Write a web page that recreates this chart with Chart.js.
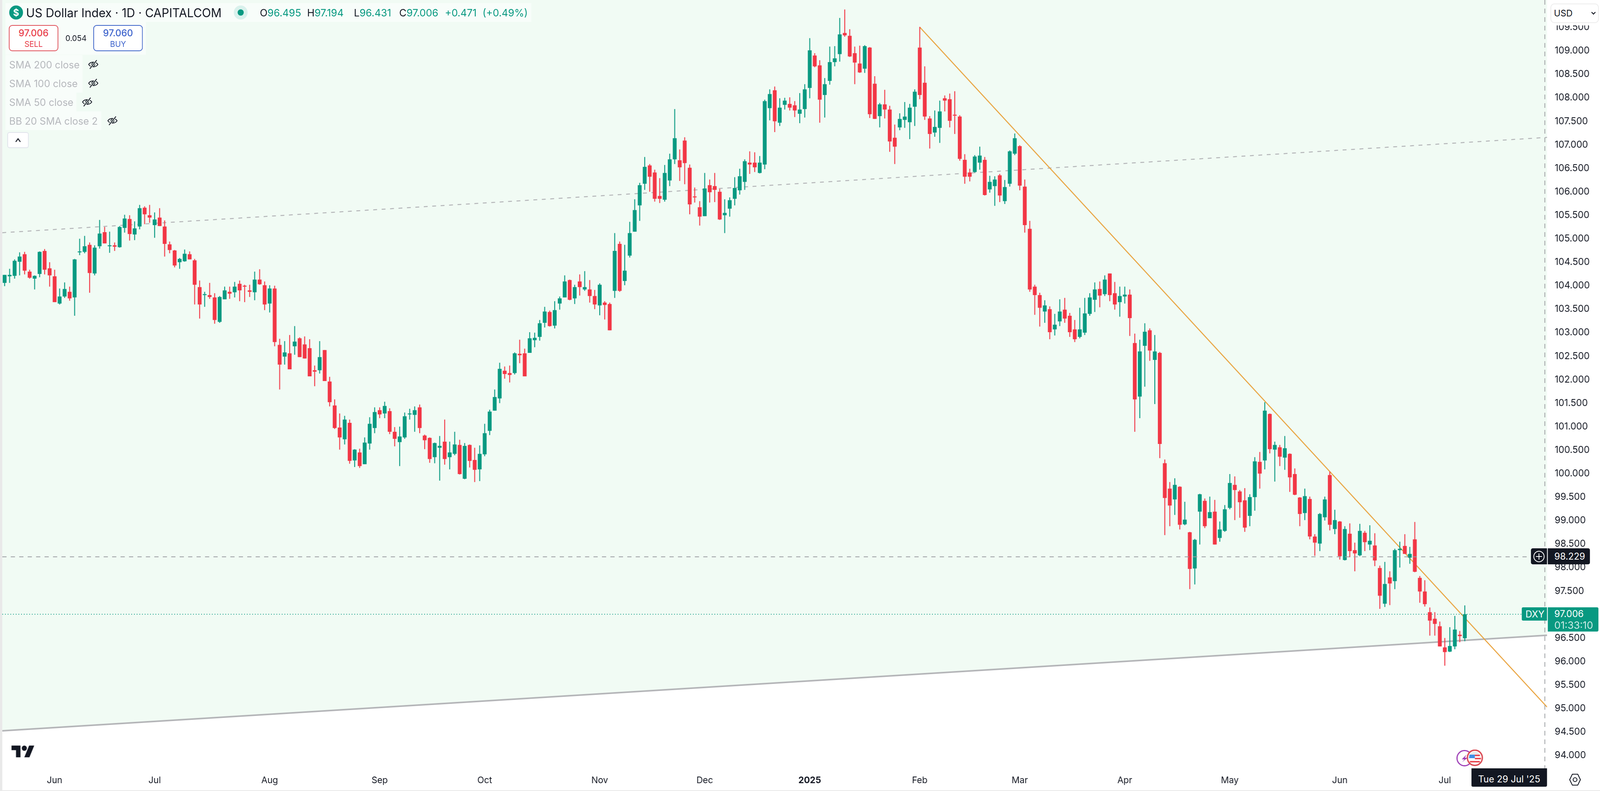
<!DOCTYPE html>
<html>
<head>
<meta charset="utf-8">
<title>US Dollar Index</title>
<script src="https://cdn.jsdelivr.net/npm/chart.js@4/dist/chart.umd.js"></script>
<style>
  html, body { margin: 0; padding: 0; height: 2024px; overflow: hidden; background: #e9e9e9; }
  #page { position: absolute; left: 0; top: 0; width: 4168px; height: 2024px; transform-origin: 0 0; font-family: Inter, Roboto, sans-serif; color: #131722; }
  #panel { position: absolute; left: 6px; top: 0; width: 4162px; height: 2022px; background: #fff; }
  canvas { position: absolute; left: 0; top: 0; }
  .a { position: absolute; white-space: nowrap; display: flex; align-items: center; box-sizing: border-box; }
  .pill { background: rgba(255,255,255,.5); }
  .num { color: #089981; }
  .sma { color: #b6b8bd; font-size: 25.5px; height: 48px; left: 24px; }
  .dark { background: #131722; color: #fff; font-size: 24px; }
  .green { background: #089981; color: #fff; font-size: 24px; }
  .ohlc { font-size: 26px; top: 32px; height: 0; }
  .box { background: #fff; border-radius: 9px; border: 2.5px solid; flex-direction: column; justify-content: center; top: 64px; height: 67px; width: 129px; line-height: 1; }
</style>
</head>
<body>
<div id="page">
<div id="panel"></div>
<canvas id="chart" width="4168" height="2024"></canvas>

<svg width="0" height="0" style="position:absolute">
  <symbol id="eyeoff" viewBox="0 0 30 30">
    <path d="M3 15 C8 7 22 7 27 15 C22 23 8 23 3 15Z" fill="none" stroke="#131722" stroke-width="2"/>
    <circle cx="15" cy="15" r="4" fill="none" stroke="#131722" stroke-width="2"/>
    <path d="M24 4 L6 26" stroke="#f1fbf4" stroke-width="5"/>
    <path d="M24 4 L6 26" stroke="#131722" stroke-width="2"/>
  </symbol>
</svg>

<!-- header -->
<div class="a pill" style="left:14px;top:8px;width:1370px;height:48px"></div>
<div class="a pill" style="left:14px;top:56px;width:366px;height:84px"></div>
<div class="a" style="left:24px;top:14px;width:36px;height:36px;border-radius:50%;background:#089981;color:#fff;font-weight:700;font-size:24px;justify-content:center">$</div>
<div class="a" style="left:68px;top:8px;height:48px;font-size:30.7px">US Dollar Index · 1D · CAPITALCOM</div>
<div class="a" style="left:609px;top:14px;width:36px;height:36px;border-radius:50%;background:#d9f1ec"></div>
<div class="a" style="left:619px;top:24px;width:16px;height:16px;border-radius:50%;background:#089981"></div>
<div class="a ohlc" style="left:677px">O<span class="num">96.495</span></div>
<div class="a ohlc" style="left:800px">H<span class="num">97.194</span></div>
<div class="a ohlc" style="left:922px">L<span class="num">96.431</span></div>
<div class="a ohlc" style="left:1040px">C<span class="num">97.006</span></div>
<div class="a ohlc num" style="left:1159px">+0.471</div>
<div class="a ohlc num" style="left:1257px">(+0.49%)</div>

<div class="a box" style="left:23px;border-color:#e0525c;color:#e8404c"><div style="font-size:24px;font-weight:500;margin-bottom:6px">97.006</div><div style="font-size:20px">SELL</div></div>
<div class="a" style="left:170px;top:84px;height:28px;font-size:20px;width:56px;justify-content:center">0.054</div>
<div class="a box" style="left:243px;border-color:#3f66c9;color:#3d63cc"><div style="font-size:24px;font-weight:500;margin-bottom:6px">97.060</div><div style="font-size:20px">BUY</div></div>

<div class="a pill" style="left:14px;top:141px;width:201px;height:48px"></div>
<div class="a pill" style="left:14px;top:189px;width:201px;height:48px"></div>
<div class="a pill" style="left:14px;top:237px;width:185px;height:48px"></div>
<div class="a pill" style="left:14px;top:285px;width:250px;height:48px"></div>
<div class="a sma" style="top:141px">SMA 200 close</div>
<div class="a sma" style="top:189px">SMA 100 close</div>
<div class="a sma" style="top:237px">SMA 50 close</div>
<div class="a sma" style="top:285px">BB 20 SMA close 2</div>
<svg class="a" style="left:228px;top:150px" width="30" height="30"><use href="#eyeoff"/></svg>
<svg class="a" style="left:228px;top:198px" width="30" height="30"><use href="#eyeoff"/></svg>
<svg class="a" style="left:212px;top:246px" width="30" height="30"><use href="#eyeoff"/></svg>
<svg class="a" style="left:278px;top:294px" width="30" height="30"><use href="#eyeoff"/></svg>
<div class="a" style="left:19px;top:338px;width:56px;height:41px;background:#fff;border:2px solid #e0e3eb;border-radius:6px;justify-content:center">
  <svg width="16" height="12" viewBox="0 0 16 12"><path d="M2 10 L8 2 L14 10" fill="none" stroke="#131722" stroke-width="2.4"/></svg>
</div>

<!-- right side widgets -->
<div class="a" style="left:4032px;top:0;width:136px;height:65px;background:#fff"></div>
<div class="a" style="left:4039px;top:9px;width:126px;height:50px;border:2px solid #ececec;border-radius:10px;font-size:23px;padding-left:7px">USD</div>
<svg class="a" style="left:4144px;top:29px" width="14" height="10" viewBox="0 0 14 10"><path d="M2 2 L7 7 L12 2" fill="none" stroke="#131722" stroke-width="2.4"/></svg>

<div class="a dark" style="left:3988px;top:1403px;width:42px;height:41px;border-radius:5px 0 0 5px;justify-content:center">
  <svg width="30" height="30" viewBox="0 0 30 30"><circle cx="15" cy="15" r="13.5" fill="none" stroke="#fff" stroke-width="2"/><path d="M15 7V23M7 15H23" stroke="#fff" stroke-width="2"/></svg>
</div>
<div class="a dark" style="left:4032px;top:1403px;width:110px;height:41px;border-radius:0 5px 5px 0;padding-left:17px">98.229</div>

<div class="a green" style="left:3964px;top:1554px;width:66px;height:34px;border-radius:4px 0 0 4px;padding-left:10px">DXY</div>
<div class="a green" style="left:4032px;top:1554px;width:132px;height:62px;border-radius:0 4px 4px 0;padding-left:17px;flex-direction:column;align-items:flex-start;justify-content:center;line-height:29px">
  <div>97.006</div><div style="opacity:.8;font-size:26px">01:33:10</div>
</div>

<div class="a dark" style="left:3833px;top:1966px;width:197px;height:47px;border-radius:0 0 4px 4px;justify-content:center;padding-top:8px">Tue 29 Jul '25</div>
<svg class="a" style="left:4087px;top:1978px" width="32" height="34" viewBox="0 0 32 34"><path d="M9 3H23L30 17L23 31H9L2 17Z" fill="none" stroke="#131722" stroke-width="2.2"/><circle cx="16" cy="17" r="5" fill="none" stroke="#131722" stroke-width="2.2"/></svg>

<!-- logo and event badges -->
<svg class="a" style="left:30px;top:1901px" width="60" height="47" viewBox="0 0 36 28"><path d="M14 22H7V11H0V4h14v18z" fill="#131722"/><path d="M28 22h-8l7.5-18h8L28 22z" fill="#131722"/><circle cx="20" cy="8" r="4" fill="#131722"/></svg>
<svg class="a" style="left:3793px;top:1918px" width="72" height="44" viewBox="0 0 72 44">
  <circle cx="22" cy="22" r="19.5" fill="#fff" stroke="#9c3bb5" stroke-width="3"/>
  <path d="M27 13 L15 25 H22 L16 32 L30 21 H23 Z" fill="#9c3bb5"/>
  <circle cx="49" cy="21" r="19.5" fill="#fff" stroke="#d9464f" stroke-width="3.5"/>
  <path d="M34 16 a16 16 0 0 1 30 0 Z" fill="#e9e9e9"/>
  <path d="M35 13H49V22H33.5Z" fill="#3f8fe6"/>
  <path d="M49 13H62V17H49ZM49 21H65V25H49ZM36 29H62V33H36Z" fill="#ea5058"/>
</svg>
</div>

<script>
// the window can be narrower than the 4168 px layout, squeeze to fit
document.getElementById('page').style.transform = 'scaleX(' + Math.min(1, window.innerWidth / 4168) + ')';

// daily candles, oldest first
const opens = [
  104.06,104.20,104.21,104.51,104.67,104.30,104.15,104.25,104.74,104.37,
  104.20,103.62,103.77,103.87,103.75,104.71,104.72,104.87,104.26,104.84,
  105.14,104.84,104.86,104.82,105.23,105.42,105.09,105.26,105.66,105.50,
  105.29,105.45,105.26,104.88,104.75,104.50,104.52,104.67,104.54,103.97,
  103.80,103.80,103.75,103.23,103.71,103.87,103.86,104.04,104.00,103.90,
  103.86,104.13,104.01,103.62,103.94,102.74,102.49,102.56,102.71,102.88,
  102.75,102.67,102.20,102.20,102.63,101.96,101.45,100.98,100.73,101.08,
  100.28,100.45,100.20,100.64,100.97,101.35,101.28,101.33,100.89,100.67,
  100.77,101.26,101.25,101.41,100.81,100.76,100.35,100.55,100.68,100.35,
  100.42,100.61,99.89,100.61,100.29,100.09,100.41,100.91,101.34,101.60,
  102.19,102.14,102.14,102.55,102.56,102.57,102.84,102.91,103.21,103.44,
  103.15,103.62,103.75,104.12,103.73,104.09,103.92,103.92,103.78,103.58,
  103.64,103.61,103.89,104.89,104.10,104.64,105.15,105.71,106.17,106.56,
  106.41,105.91,105.83,106.24,106.69,106.67,107.09,106.51,105.90,105.67,
  105.48,106.14,106.12,106.00,105.50,105.64,105.85,106.03,106.21,106.62,
  106.62,106.40,106.58,107.78,108.16,107.47,107.85,107.87,107.84,107.66,
  107.76,108.21,108.90,108.69,108.06,108.36,108.76,108.93,109.38,109.32,
  108.95,108.73,108.62,109.07,108.30,107.61,107.86,107.75,107.15,107.37,
  107.53,107.48,107.81,109.07,108.32,107.56,107.26,107.36,107.99,107.97,
  107.64,107.60,106.68,106.41,106.42,106.62,106.68,106.05,106.12,106.35,
  105.80,106.17,106.81,106.97,106.11,105.21,103.98,103.80,103.45,103.50,
  103.07,103.24,103.49,103.36,103.07,102.91,103.00,103.40,103.70,103.93,
  103.82,104.26,103.84,103.65,103.77,103.81,102.78,101.64,102.72,103.05,
  102.42,102.57,100.22,99.68,99.45,99.72,98.92,98.75,97.98,99.19,
  99.42,99.05,99.19,98.63,98.78,99.27,99.76,99.62,99.43,99.10,
  99.50,100.25,100.28,101.27,100.51,100.56,100.34,100.42,99.99,99.49,
  99.16,99.46,98.66,98.51,99.07,99.97,98.82,98.98,98.16,98.72,
  98.37,98.26,98.74,98.49,98.47,97.99,97.23,97.79,97.71,98.37,
  98.46,98.21,98.60,97.78,97.49,97.05,96.91,96.75,96.30,96.21,96.32,96.57,96.495
];
const closes = [
  104.23,104.23,104.53,104.62,104.32,104.17,104.21,104.72,104.34,104.22,
  103.65,103.77,103.93,103.73,104.56,104.73,104.84,104.27,104.81,105.11,
  104.90,104.86,104.83,105.25,105.43,105.10,105.22,105.65,105.52,105.45,
  105.41,105.27,104.89,104.76,104.43,104.57,104.68,104.56,104.02,103.60,
  103.82,103.76,103.27,103.76,103.90,103.83,103.98,103.90,103.98,103.87,
  104.13,104.03,103.60,103.94,102.80,102.32,102.58,102.22,102.81,102.48,
  102.45,102.07,102.17,102.48,101.97,101.52,100.97,100.77,101.15,100.27,
  100.51,100.16,100.66,101.06,101.31,101.26,101.44,100.89,100.74,100.79,
  101.22,101.28,101.35,100.97,100.71,100.31,100.65,100.59,100.31,100.45,
  100.62,99.99,100.59,100.27,100.08,100.42,100.86,101.32,101.63,102.23,
  102.12,102.10,102.56,102.52,102.07,102.88,102.89,103.20,103.45,103.14,
  103.48,103.73,104.09,103.70,103.97,103.97,103.97,103.78,103.60,104.02,
  103.59,103.05,104.74,103.89,104.32,105.12,105.61,106.14,106.53,106.32,
  105.85,105.85,106.40,106.69,107.14,106.52,106.61,105.73,105.88,105.47,
  106.07,105.99,106.04,105.41,105.55,105.82,106.08,106.33,106.65,106.58,
  106.52,106.62,107.93,108.08,107.50,107.79,107.94,107.79,107.73,107.75,
  108.18,109.01,108.67,107.96,108.29,108.76,108.84,109.35,109.33,108.88,
  108.75,108.54,109.10,107.65,107.55,107.86,107.75,107.07,106.96,107.55,
  107.60,107.79,108.13,108.06,107.60,107.23,107.38,107.71,107.94,107.51,
  107.62,106.70,106.32,106.32,106.75,106.77,105.93,106.21,106.26,105.92,
  106.10,106.86,107.14,106.13,105.29,103.92,103.80,103.53,103.58,103.01,
  103.17,103.45,103.30,103.01,102.86,103.07,103.41,103.75,103.92,103.79,
  104.13,103.80,103.60,103.78,103.81,103.31,101.58,102.60,103.02,102.62,
  102.60,100.63,99.48,99.32,99.76,98.91,99.02,97.97,98.59,99.56,
  98.88,99.18,98.49,98.81,99.24,99.80,99.65,99.39,98.85,99.50,
  100.26,100.00,101.34,100.52,100.61,100.36,100.54,99.92,99.55,99.14,
  99.52,98.66,98.53,99.14,99.45,98.91,99.01,98.24,98.82,98.35,
  98.30,98.78,98.54,98.57,98.15,97.40,97.65,97.66,98.37,98.40,
  98.29,98.29,97.91,97.49,97.22,96.87,96.80,96.32,96.20,96.33,96.68,96.54,97.006
];
const highs = [
  104.23,104.36,104.56,104.71,104.72,104.34,104.22,104.73,104.78,104.50,
  104.34,103.94,104.07,103.98,104.57,105.00,105.06,104.92,104.86,105.40,
  105.25,105.15,104.92,105.27,105.51,105.50,105.37,105.72,105.69,105.72,
  105.56,105.65,105.39,104.94,104.76,104.59,104.77,104.73,104.57,104.11,
  103.87,104.06,103.84,103.78,103.98,103.98,104.08,104.11,104.02,104.02,
  104.30,104.35,104.09,104.01,104.00,102.87,102.82,102.95,103.14,102.90,
  102.92,102.86,102.30,102.82,102.63,102.06,101.58,101.28,101.23,101.15,
  100.52,100.53,100.77,101.20,101.41,101.41,101.53,101.39,100.99,101.00,
  101.30,101.38,101.43,101.47,100.83,100.77,100.66,100.80,101.15,100.68,
  100.89,100.72,100.65,100.62,100.55,100.60,101.06,101.36,101.79,102.36,
  102.28,102.30,102.58,102.85,102.66,103.01,103.00,103.27,103.55,103.47,
  103.67,103.77,104.22,104.13,104.02,104.24,104.31,104.12,103.91,104.05,
  103.67,103.64,105.12,104.94,104.87,105.36,105.84,106.19,106.74,106.59,
  106.47,106.29,106.57,106.81,107.76,106.90,107.16,106.58,106.09,105.80,
  106.40,106.26,106.40,106.06,105.84,105.88,106.31,106.49,106.69,106.86,
  106.84,106.76,107.96,108.18,108.24,107.99,108.00,108.01,107.93,108.10,
  108.29,109.27,108.95,108.80,108.42,109.09,109.10,109.70,109.88,109.46,
  109.09,109.11,109.12,109.08,108.46,107.89,108.17,107.83,107.43,107.67,
  107.91,107.87,108.18,109.51,108.67,107.61,107.73,107.94,108.05,108.09,
  108.14,107.63,106.80,106.49,106.78,106.96,106.74,106.34,106.33,106.38,
  106.25,106.88,107.24,106.99,106.26,105.38,104.02,103.85,103.69,103.56,
  103.40,103.71,103.74,103.42,103.27,103.53,103.74,103.84,104.07,104.09,
  104.22,104.26,104.08,103.98,103.98,103.92,102.98,102.85,103.20,103.09,
  102.95,102.59,100.30,99.82,99.90,99.73,99.40,98.76,98.61,99.57,
  99.47,99.51,99.44,98.98,99.33,99.99,99.94,99.65,99.69,99.56,
  100.35,100.46,101.52,101.28,100.68,100.61,100.80,100.43,100.11,99.50,
  99.68,99.51,98.71,99.16,99.51,100.04,99.23,98.99,98.88,98.94,
  98.53,98.93,98.78,98.90,98.73,98.04,98.12,97.92,98.40,98.55,
  98.71,98.44,98.97,97.82,97.73,97.15,97.05,96.85,96.50,96.73,96.97,96.65,97.194
];
const lows = [
  103.99,104.06,104.15,104.22,104.24,104.15,103.92,104.18,104.24,103.98,
  103.65,103.60,103.74,103.68,103.36,104.65,104.69,103.85,104.22,104.79,
  104.90,104.70,104.74,104.81,105.13,104.96,104.97,105.20,105.31,105.34,
  105.02,105.27,104.62,104.69,104.39,104.36,104.51,104.56,103.60,103.30,
  103.55,103.72,103.19,103.21,103.71,103.72,103.75,103.67,103.65,103.76,
  103.69,104.02,103.48,103.43,102.71,101.79,102.32,102.22,102.53,102.48,
  102.45,102.07,101.86,102.13,101.97,101.43,100.95,100.51,100.62,100.21,
  100.14,100.12,100.20,100.51,100.86,101.18,101.18,100.84,100.58,100.16,
  100.74,101.15,100.89,100.86,100.52,100.23,100.22,99.85,100.19,100.09,
  100.39,99.98,99.88,100.13,99.82,99.84,100.37,100.82,101.34,101.50,
  102.02,101.94,102.11,102.35,102.07,102.57,102.69,102.83,103.11,103.13,
  103.09,103.49,103.75,103.69,103.61,103.79,103.89,103.64,103.50,103.37,
  103.28,103.05,103.74,103.87,104.01,104.60,105.15,105.38,106.04,106.00,
  105.79,105.76,105.79,106.12,106.59,106.23,106.16,105.52,105.77,105.28,
  105.48,105.77,105.78,105.40,105.12,105.47,105.71,105.94,106.04,106.38,
  106.42,106.39,106.48,107.52,107.27,107.40,107.75,107.73,107.59,107.46,
  107.58,107.99,108.65,107.47,107.58,108.28,108.67,108.77,109.30,108.87,
  108.29,108.53,108.53,107.57,107.55,107.37,107.56,106.85,106.59,107.31,
  107.36,107.12,107.40,107.97,107.53,106.92,107.17,107.04,107.71,107.37,
  107.23,106.66,106.17,106.22,106.41,106.47,105.92,105.98,105.70,105.78,
  105.74,106.11,106.78,106.03,105.13,103.87,103.38,103.13,103.21,102.86,
  102.94,103.14,103.21,102.91,102.80,102.88,102.95,103.36,103.44,103.54,
  103.78,103.67,103.49,103.34,103.62,102.93,100.89,101.18,101.85,102.40,
  101.48,100.33,98.69,98.88,99.12,98.81,98.90,97.54,97.64,98.49,
  98.84,99.05,98.49,98.55,98.76,99.24,99.01,99.06,98.76,98.88,
  99.21,99.68,100.09,100.43,99.83,100.16,100.08,99.61,99.54,98.88,
  99.01,98.60,98.25,98.35,99.00,98.79,98.71,98.17,98.15,98.22,
  97.92,98.24,98.35,98.37,98.03,97.12,97.16,97.20,97.54,98.00,
  98.29,98.08,97.90,97.25,97.17,96.55,96.55,96.32,95.91,96.20,96.26,96.41,96.431
];

// time axis: bar index of the first session of each month
const monthTicks = [10, 30, 53, 75, 96, 119, 140, 161, 183, 203, 224, 245, 267, 288];
const monthLabels = ['Jun', 'Jul', 'Aug', 'Sep', 'Oct', 'Nov', 'Dec', '2025', 'Feb', 'Mar', 'Apr', 'May', 'Jun', 'Jul'];
const priceTicks = [
  94, 94.5, 95, 95.5, 96, 96.5, 97, 97.5, 98, 98.5, 99, 99.5, 100, 100.5, 101, 101.5,
  102, 102.5, 103, 103.5, 104, 104.5, 105, 105.5, 106, 106.5, 107, 107.5, 108, 108.5, 109, 109.5
];

// drawn trend lines, as [bar index] and [price]
const xMin = -0.46, xMax = 308.44;
const yMin = 93.692, yMax = 110.082;
const floorX = [xMin, xMax], floorY = [94.524, 96.558];
const upperX = [xMin, xMax], upperY = [105.128, 107.157];
const downX = [183, xMax], downY = [109.505, 95.03];
const crossPrice = 98.229, lastPrice = 97.006, crossBar = 308;

const UP = '#089981', DOWN = '#f23645';
const candleColors = opens.map((o, i) => closes[i] >= o ? UP : DOWN);

const toPoints = (xs, ys) => xs.map((x, i) => ({ x, y: ys[i] }));
const lineStyle = { type: 'line', pointRadius: 0, tension: 0, fill: false };
const noPadding = (axis) => {
  axis.paddingLeft = axis.paddingRight = axis.paddingTop = axis.paddingBottom = 0;
};

new Chart(document.getElementById('chart').getContext('2d'), {
  type: 'bar',
  data: {
    datasets: [
      {
        ...lineStyle,
        data: toPoints(floorX, floorY),
        borderColor: '#b4b5b8',
        borderWidth: 4,
        fill: 'end',
        backgroundColor: '#f1fbf4',
        order: 7
      },
      {
        ...lineStyle,
        data: toPoints(upperX, upperY),
        borderColor: '#b4b5b8',
        borderWidth: 2.5,
        borderDash: [10, 12],
        order: 6
      },
      {
        ...lineStyle,
        data: toPoints(downX, downY),
        borderColor: '#e9a23b',
        borderWidth: 2.5,
        order: 5
      },
      {
        ...lineStyle,
        data: toPoints([xMin, xMax], [lastPrice, lastPrice]),
        borderColor: '#089981',
        borderWidth: 2,
        borderDash: [2, 5],
        order: 4
      },
      {
        data: opens.map((o, i) => ({ x: i, y: [lows[i], highs[i]] })),
        backgroundColor: candleColors,
        barThickness: 2.4,
        order: 3
      },
      {
        data: opens.map((o, i) => ({ x: i, y: [o, closes[i]] })),
        backgroundColor: candleColors,
        barThickness: 10,
        order: 2
      },
      {
        ...lineStyle,
        data: toPoints([xMin, xMax], [crossPrice, crossPrice]),
        borderColor: '#9a9ca1',
        borderWidth: 2,
        borderDash: [11, 11],
        order: 1
      },
      {
        ...lineStyle,
        data: toPoints([crossBar, crossBar], [yMin, yMax]),
        borderColor: '#9a9ca1',
        borderWidth: 2,
        borderDash: [12, 10],
        order: 0
      }
    ]
  },
  options: {
    responsive: false,
    animation: false,
    devicePixelRatio: 1,
    grouped: false,
    inflateAmount: 0,
    events: [],
    layout: { padding: { left: 6, top: 0, right: 0, bottom: 0 } },
    plugins: {
      legend: { display: false },
      tooltip: { enabled: false }
    },
    scales: {
      x: {
        type: 'linear',
        offset: false,
        min: xMin,
        max: xMax,
        grid: { display: false, drawTicks: false },
        border: { display: false },
        afterFit: (axis) => { axis.height = 54; noPadding(axis); },
        afterBuildTicks: (axis) => { axis.ticks = monthTicks.map((value) => ({ value })); },
        ticks: {
          autoSkip: false,
          maxRotation: 0,
          padding: 13,
          color: '#131722',
          font: (ctx) => ({
            family: 'Inter',
            size: 23,
            weight: ctx.tick && ctx.tick.value === 161 ? '700' : '400'
          }),
          callback: (value) => monthLabels[monthTicks.indexOf(value)]
        }
      },
      y: {
        type: 'linear',
        position: 'right',
        min: yMin,
        max: yMax,
        grid: { display: false, drawTicks: false },
        border: { display: false },
        afterFit: (axis) => { axis.width = 138; noPadding(axis); },
        afterBuildTicks: (axis) => { axis.ticks = priceTicks.map((value) => ({ value })); },
        ticks: {
          autoSkip: false,
          padding: 20,
          color: '#131722',
          font: { family: 'Inter', size: 24 },
          callback: (value) => value.toFixed(3)
        }
      }
    }
  }
});
</script>
</body>
</html>
